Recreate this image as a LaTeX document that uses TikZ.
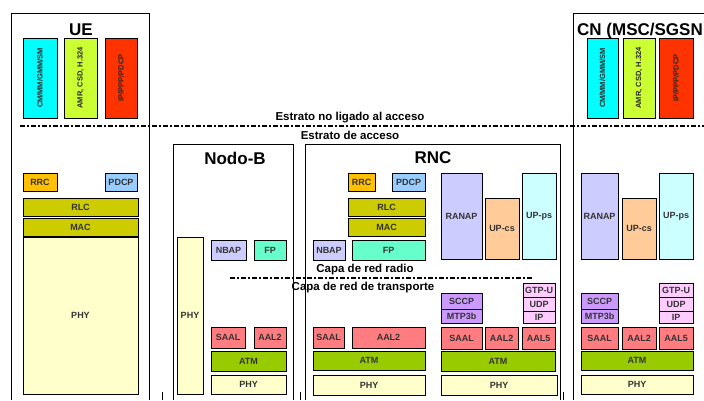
\documentclass[tikz,border=0pt]{standalone}
\usepackage{fontspec}
\setmainfont{Liberation Sans}
\definecolor{cCyan}{HTML}{00FFFF}
\definecolor{cLime}{HTML}{CCFF33}
\definecolor{cRed}{HTML}{FF3300}
\definecolor{cRRC}{HTML}{FFC000}
\definecolor{cPDCP}{HTML}{99CCFF}
\definecolor{cRLC}{HTML}{CCCC00}
\definecolor{cPHY}{HTML}{FFFFCC}
\definecolor{cNBAP}{HTML}{CCCCFF}
\definecolor{cFP}{HTML}{66FFCC}
\definecolor{cAAL}{HTML}{FF7C80}
\definecolor{cATM}{HTML}{99CC00}
\definecolor{cUPcs}{HTML}{FFCC99}
\definecolor{cUPps}{HTML}{CCFFFF}
\definecolor{cSCCP}{HTML}{CC99FF}
\definecolor{cGTP}{HTML}{FFCCFF}
\tikzset{
  lay/.style={draw=black, line width=0.8pt, inner sep=0pt, outer sep=0pt,
    font=\fontsize{9}{9}\selectfont\bfseries, text=black!80},
  vlay/.style={lay, rotate=90, font=\fontsize{7.5}{7.5}\selectfont\bfseries, text=black!85},
  frame/.style={draw=black, line width=0.9pt},
  hdr/.style={font=\fontsize{17}{17}\selectfont\bfseries, inner sep=0pt},
  strat/.style={font=\fontsize{11.5}{11.5}\selectfont\bfseries, inner sep=0pt},
  dd/.style={draw=black, line width=1.6pt, dash pattern=on 5pt off 2pt on 2pt off 2pt}
}
\newcommand\lay[7]{\node[lay,fill=#6,minimum width={(#4-#2)*1pt},minimum height={(#5-#3)*1pt}] (#1) at ({(#2+#4)/2},{(#3+#5)/2}) {#7};}
\newcommand\vlay[7]{\node[vlay,fill=#6,minimum width={(#5-#3)*1pt},minimum height={(#4-#2)*1pt}] (#1) at ({(#2+#4)/2},{(#3+#5)/2}) {#7};}
\begin{document}
\begin{tikzpicture}[x=1pt,y=-1pt]
\useasboundingbox[fill=white] (0,0) rectangle (704,400);
% frames
\draw[frame] (11,400) |- (149,13) -- (149,400);
\draw[frame] (173,400) |- (293,144) -- (293,400);
\draw[frame] (305,400) |- (560,144) -- (560,400);
\draw[frame] (573,400) |- (706,13);
\draw[frame] (162,392) -- (162,400);
\draw[frame] (300,392) -- (300,400);
\draw[frame] (563,392) -- (563,400);
% headers
\node[hdr] (ue-t) at (81,30) {UE};
\node[hdr,anchor=west] (cn-t) at (577,31) {CN (MSC/SGSN};
\node[hdr] (nb-t) at (235,158) {Nodo-B};
\node[hdr] (rnc-t) at (433,158) {RNC};
% strata
\draw[dd] (20,126) -- (704,126);
\node[strat] (s1) at (350,118) {Estrato no ligado al acceso};
\node[strat] (s2) at (350,135) {Estrato de acceso};
\draw[dd] (230,278) -- (532,278);
\node[strat] (s3) at (365,270) {Capa de red radio};
\node[strat] (s4) at (363,288) {Capa de red de transporte};
% UE top
\vlay{ue-cm}{23}{38}{57}{118}{cCyan}{CM/MM/GMM/SM}
\vlay{ue-amr}{64}{38}{97}{118}{cLime}{AMR, CSD, H.324}
\vlay{ue-ip}{105}{38}{137}{118}{cRed}{IP/PPP/PDCP}
% CN top
\vlay{cn-cm}{587}{38}{618}{118}{cCyan}{CM/MM/GMM/SM}
\vlay{cn-amr}{623}{38}{655}{118}{cLime}{AMR, CSD, H.324}
\vlay{cn-ip}{659}{38}{693}{118}{cRed}{IP/PPP/PDCP}
% UE lower
\lay{ue-rrc}{23}{173}{57}{191}{cRRC}{RRC}
\lay{ue-pdcp}{105}{173}{137}{191}{cPDCP}{PDCP}
\lay{ue-rlc}{23}{198}{138}{216}{cRLC}{RLC}
\lay{ue-mac}{23}{218}{138}{236}{cRLC}{MAC}
\lay{ue-phy}{23}{237}{138}{394}{cPHY}{PHY}
% Nodo-B
\lay{nb-phyv}{177}{237}{203}{394}{cPHY}{PHY}
\lay{nb-nbap}{211}{240}{246}{260}{cNBAP}{NBAP}
\lay{nb-fp}{254}{240}{286}{260}{cFP}{FP}
\lay{nb-saal}{211}{327}{245}{348}{cAAL}{SAAL}
\lay{nb-aal2}{254}{327}{286}{348}{cAAL}{AAL2}
\lay{nb-atm}{211}{351}{286}{371}{cATM}{ATM}
\lay{nb-phy}{211}{375}{286}{394}{cPHY}{PHY}
% RNC left
\lay{rnc-rrc}{348}{173}{375}{191}{cRRC}{RRC}
\lay{rnc-pdcp}{392}{173}{425}{191}{cPDCP}{PDCP}
\lay{rnc-rlc}{348}{198}{425}{216}{cRLC}{RLC}
\lay{rnc-mac}{348}{218}{425}{236}{cRLC}{MAC}
\lay{rnc-nbap}{313}{240}{345}{260}{cNBAP}{NBAP}
\lay{rnc-fp}{352}{240}{425}{260}{cFP}{FP}
\lay{rnc-saal1}{313}{327}{344}{348}{cAAL}{SAAL}
\lay{rnc-aal21}{352}{327}{425}{348}{cAAL}{AAL2}
\lay{rnc-atm1}{313}{351}{425}{370}{cATM}{ATM}
\lay{rnc-phy1}{313}{375}{425}{395}{cPHY}{PHY}
% RNC right
\lay{rnc-ranap}{441}{173}{482}{259}{cNBAP}{RANAP}
\lay{rnc-upcs}{485}{198}{519}{259}{cUPcs}{UP-cs}
\lay{rnc-upps}{522}{173}{556}{259}{cUPps}{UP-ps}
\lay{rnc-sccp}{441}{293}{482}{309}{cSCCP}{SCCP}
\lay{rnc-mtp}{441}{309}{482}{323}{cSCCP}{MTP3b}
\lay{rnc-gtp}{523}{283}{555}{297}{cGTP}{GTP-U}
\lay{rnc-udp}{523}{297}{555}{311}{cGTP}{UDP}
\lay{rnc-ip}{523}{311}{555}{323}{cGTP}{IP}
\lay{rnc-saal2}{441}{327}{482}{349}{cAAL}{SAAL}
\lay{rnc-aal22}{485}{327}{518}{349}{cAAL}{AAL2}
\lay{rnc-aal5}{522}{327}{555}{349}{cAAL}{AAL5}
\lay{rnc-atm2}{441}{351}{555}{371}{cATM}{ATM}
\lay{rnc-phy2}{441}{375}{557}{395}{cPHY}{PHY}
% CN lower
\lay{cn-ranap}{581}{173}{618}{259}{cNBAP}{RANAP}
\lay{cn-upcs}{622}{198}{656}{259}{cUPcs}{UP-cs}
\lay{cn-upps}{659}{173}{693}{259}{cUPps}{UP-ps}
\lay{cn-sccp}{581}{293}{618}{309}{cSCCP}{SCCP}
\lay{cn-mtp}{581}{309}{618}{323}{cSCCP}{MTP3b}
\lay{cn-gtp}{659}{283}{693}{297}{cGTP}{GTP-U}
\lay{cn-udp}{659}{297}{693}{311}{cGTP}{UDP}
\lay{cn-ip}{659}{311}{693}{323}{cGTP}{IP}
\lay{cn-saal}{581}{327}{618}{349}{cAAL}{SAAL}
\lay{cn-aal2}{622}{327}{656}{349}{cAAL}{AAL2}
\lay{cn-aal5}{659}{327}{693}{349}{cAAL}{AAL5}
\lay{cn-atm}{581}{351}{693}{370}{cATM}{ATM}
\lay{cn-phy}{581}{375}{693}{394}{cPHY}{PHY}
\end{tikzpicture}
\end{document}
